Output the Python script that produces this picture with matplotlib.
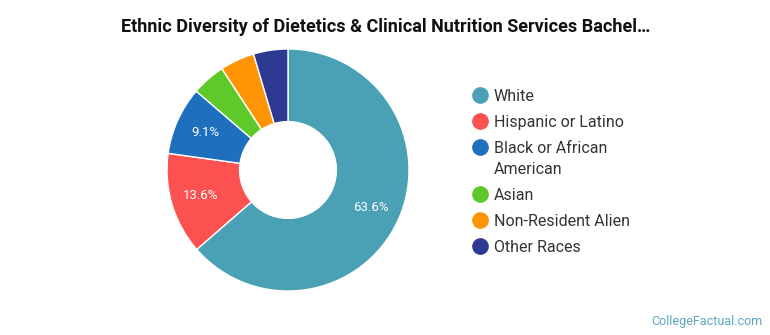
import matplotlib.pyplot as plt

plt.rcParams['font.family'] = ['Roboto', 'DejaVu Sans']

groups = ["White", "Hispanic or Latino", "Black or African\nAmerican", "Asian",
          "Non-Resident Alien", "Other Races"]
shares = [63.6, 13.6, 9.1, 4.5, 4.6, 4.6]
colors = ["#4aa0b5", "#fc5151", "#1f6fbf", "#5fc92a", "#ff9505", "#2c3a91"]

W, H = 770, 335
fig = plt.figure(figsize=(W / 100, H / 100), dpi=100)

# donut: centre (288,170) px, outer radius ~121 px
cx, cy, r = 288, 170, 121
ax = fig.add_axes([(cx - r) / W, (H - cy - r) / H, 2 * r / W, 2 * r / H])
wedges, texts, autotexts = ax.pie(
    shares, colors=colors, startangle=90, counterclock=False,
    wedgeprops=dict(width=0.6, edgecolor="white", linewidth=1),
    autopct=lambda p: f"{p:.1f}%" if p > 6 else "", pctdistance=0.75,
    textprops=dict(color="white", fontsize=9.5))
ax.set_xlim(-1, 1)
ax.set_ylim(-1, 1)
ax.set_aspect("equal")

fig.text(386 / W, 1 - 27 / H,
         "Ethnic Diversity of Dietetics & Clinical Nutrition Services Bachel\u2026",
         ha="center", va="center", fontsize=13, fontweight="bold", color="#111111")

# legend drawn on a pixel-coordinate overlay
lg = fig.add_axes([0, 0, 1, 1])
lg.set_xlim(0, W)
lg.set_ylim(H, 0)
lg.axis("off")
y = 95
for label, c in zip(groups, colors):
    lg.plot(480, y, "o", ms=11, color=c)
    for line in label.split("\n"):
        lg.text(494, y, line, va="center_baseline", ha="left", fontsize=11.5,
                color="#333333")
        y += 21
    y += 5

fig.text(763 / W, 1 - 321 / H, "CollegeFactual.com", ha="right", va="center",
         fontsize=9, color="#5aa6bb")

fig.savefig("out.png", dpi=100)
